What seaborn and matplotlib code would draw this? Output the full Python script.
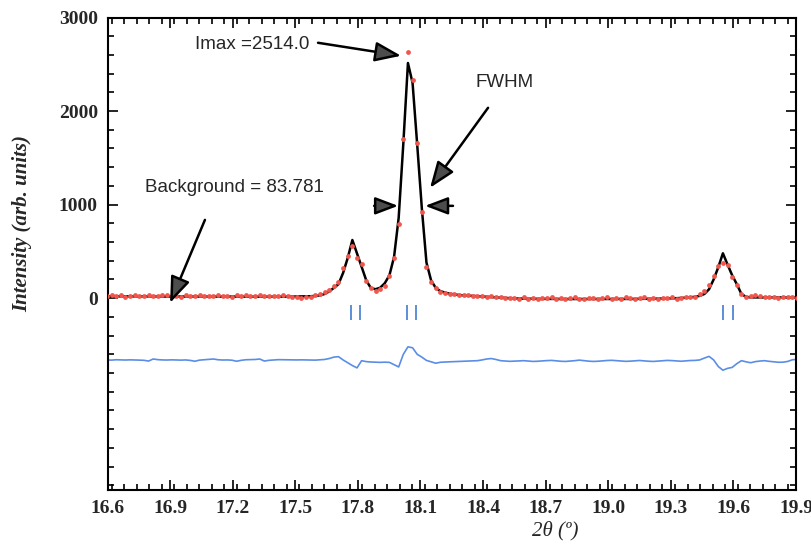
import numpy as np
import pandas as pd
import matplotlib
matplotlib.use('Agg')
import matplotlib.pyplot as plt
from matplotlib.ticker import MultipleLocator, FixedLocator, FormatStrFormatter
import seaborn as sns

# scan: start / step / number of points
scan_start = 16.597
scan_step = 0.0222
n_points = 150

# observed intensities (red dots)
obs = [28, 35, 22, 30, 18, 26, 33, 20, 25, 31, 24, 19, 29, 36, 23, 27, 18, 30, 25, 21,
       34, 26, 19, 28, 32, 22, 27, 17, 29, 24, 33, 21, 26, 30, 19, 25, 28, 22, 31, 24,
       12, 8, 5, 10, 14,
       35, 43, 62, 90, 130, 175, 318, 450, 560, 425, 364, 182, 104, 82, 100, 135, 235, 425, 797, 1697,
       2636, 2337, 1658, 925, 335, 175, 104, 70, 55, 45, 40, 38,
       33, 30, 28, 22, 25, 15, 20, 12, 8, 5, -3,
       4, -8, 10, -5, 2, -12, 6, -3, 9, -7, 0, -10, 5, 12, -4, -9, 3, 7, -6, -1,
       8, -11, 2, -5, 10, -2, -8, 4, 11, -6, 1, -9, 6, -3, 8, -7, 3, 12, 9, 15,
       45, 75, 140, 240, 340, 372, 350, 230, 139, 50, 14, 20, 32, 21, 14, 10, 18, 5, 12, 8, 15, 6]

# calculated profile (black line)
calc = [20, 20, 20, 19, 19, 19, 19, 19, 19, 19, 18, 18, 18, 18, 18, 18, 18, 18, 18, 18,
        17, 17, 17, 17, 17, 17, 17, 17, 17, 17, 16, 16, 16, 16, 16, 16, 16, 16, 17, 17,
        17, 18, 18, 19, 21,
        24, 30, 45, 72, 110, 150, 270, 430, 622, 480, 335, 190, 108, 96, 112, 160, 245, 440, 860, 1650,
        2514, 2300, 1640, 960, 380, 190, 110, 75, 60, 48, 40, 34,
        30, 27, 24, 20, 17, 14, 11, 8, 5, 2, 0,
        -3, -4, -5, -6, -6, -7, -7, -8, -8, -8, -9, -9, -9, -9, -9, -9, -9, -9, -9, -9,
        -8, -8, -8, -8, -8, -8, -7, -7, -7, -7, -6, -5, -4, -3, -2, 0, 2, 5, 9, 15,
        25, 45, 95, 200, 330, 480, 360, 245, 150, 45, 14, 9, 8, 8, 8, 8, 8, 8, 8, 8, 8, 8]

# difference curve (blue, shifted)
diff = [-660, -662, -658, -660, -661, -659, -660, -662, -664, -672,
        -650, -657, -660, -661, -659, -660, -662, -660, -665, -674,
        -662, -658, -655, -650, -658, -661, -660, -663, -674, -664,
        -658, -656, -655, -650, -672, -664, -660, -657, -658, -660,
        -661, -660, -659, -660, -661,
        -662, -658, -655, -645, -630, -625, -660, -690, -720, -745,
        -668, -678, -682, -684, -686, -684, -686, -710, -735, -600,
        -520, -530, -600, -630, -665, -680, -695, -685, -682, -680, -678, -676,
        -675, -672, -670, -668, -660, -650, -645, -655, -668, -672,
        -675, -673, -670, -668, -672, -676, -674, -670, -667, -665,
        -670, -674, -676, -672, -668, -662, -668, -673, -676, -674,
        -670, -666, -664, -668, -672, -675, -673, -669, -666, -670,
        -674, -676, -672, -668, -665, -667, -671, -674, -670, -666, -665,
        -660, -640, -622, -660, -730, -770, -750, -740, -700, -668,
        -680, -690, -678, -672, -668, -675, -680, -685, -684, -676, -658, -655]

# Bragg reflection positions (K-alpha1 / K-alpha2 pairs)
bragg_pos = [17.767, 17.810, 18.034, 18.079, 19.549, 19.600]

x_ticks = [16.6, 16.9, 17.2, 17.5, 17.8, 18.1, 18.4, 18.7, 19.0, 19.3, 19.6, 19.9]
y_ticks = [0, 1000, 2000, 3000]

two_theta = scan_start + scan_step * np.arange(n_points)
df = pd.DataFrame({'two_theta': two_theta, 'obs': obs, 'calc': calc, 'diff': diff})

sns.set_theme(style='ticks')
plt.rcParams['font.family'] = ['Liberation Serif', 'DejaVu Serif']

fig = plt.figure(figsize=(8.12, 5.44), dpi=100)
ax = fig.add_axes([0.1324, 0.0993, 0.8479, 0.8685])

sns.lineplot(data=df, x='two_theta', y='diff', color='#5a8ee6', lw=1.2,
             estimator=None, legend=False, ax=ax, zorder=2)
sns.lineplot(data=df, x='two_theta', y='calc', color='black', lw=1.8,
             estimator=None, legend=False, ax=ax, zorder=3)
sns.scatterplot(data=df, x='two_theta', y='obs', color='#f0564b', s=12,
                linewidth=0, legend=False, ax=ax, zorder=4)
ax.vlines(bragg_pos, -230, -75, color='#4f86d8', lw=1.3, zorder=2)

ax.set_xlim(16.6, 19.9)
ax.set_ylim(-2050, 3000)
ax.xaxis.set_major_locator(FixedLocator(x_ticks))
ax.xaxis.set_major_formatter(FormatStrFormatter('%.1f'))
ax.xaxis.set_minor_locator(MultipleLocator(0.06))
ax.yaxis.set_major_locator(FixedLocator(y_ticks))
ax.yaxis.set_minor_locator(MultipleLocator(200))
ax.tick_params(which='both', direction='in', top=True, right=True,
               width=1.2, color='black')
ax.tick_params(which='major', length=7, pad=7, labelsize=14)
ax.tick_params(which='minor', length=4)
for lab in ax.get_xticklabels() + ax.get_yticklabels():
    lab.set_fontweight('bold')
for sp in ax.spines.values():
    sp.set_color('black')
    sp.set_linewidth(1.5)

ax.set_xlabel('2θ (º)', fontsize=15, style='italic')
ax.xaxis.set_label_coords(0.651, -0.066)
ax.set_ylabel('Intensity (arb. units)', fontsize=15, style='italic', fontweight='bold')
ax.yaxis.set_label_coords(-0.11, 0.563)


def arrow(start, tip, scale=16):
    ax.annotate('', xy=tip, xytext=start,
                arrowprops=dict(arrowstyle='-|>,head_length=1.0,head_width=0.38',
                                mutation_scale=scale, lw=1.8, fc='#4d4d4d',
                                ec='black', shrinkA=0, shrinkB=0), zorder=5)


sans = ['Liberation Sans', 'DejaVu Sans']
ax.text(17.02, 2710, f'Imax ={max(calc):.1f}', fontsize=13.5, family=sans, va='center')
arrow((17.609, 2730), (18.007, 2591))
ax.text(18.362, 2303, 'FWHM', fontsize=13.5, family=sans, va='center')
arrow((18.424, 2035), (18.146, 1180))
ax.text(16.78, 1180, 'Background = 83.781', fontsize=13.5, family=sans, va='center')
arrow((17.067, 837), (16.90, -50))
arrow((17.878, 987), (17.993, 987), scale=14)
arrow((18.256, 987), (18.122, 987), scale=14)

plt.savefig('out.png', dpi=100)
